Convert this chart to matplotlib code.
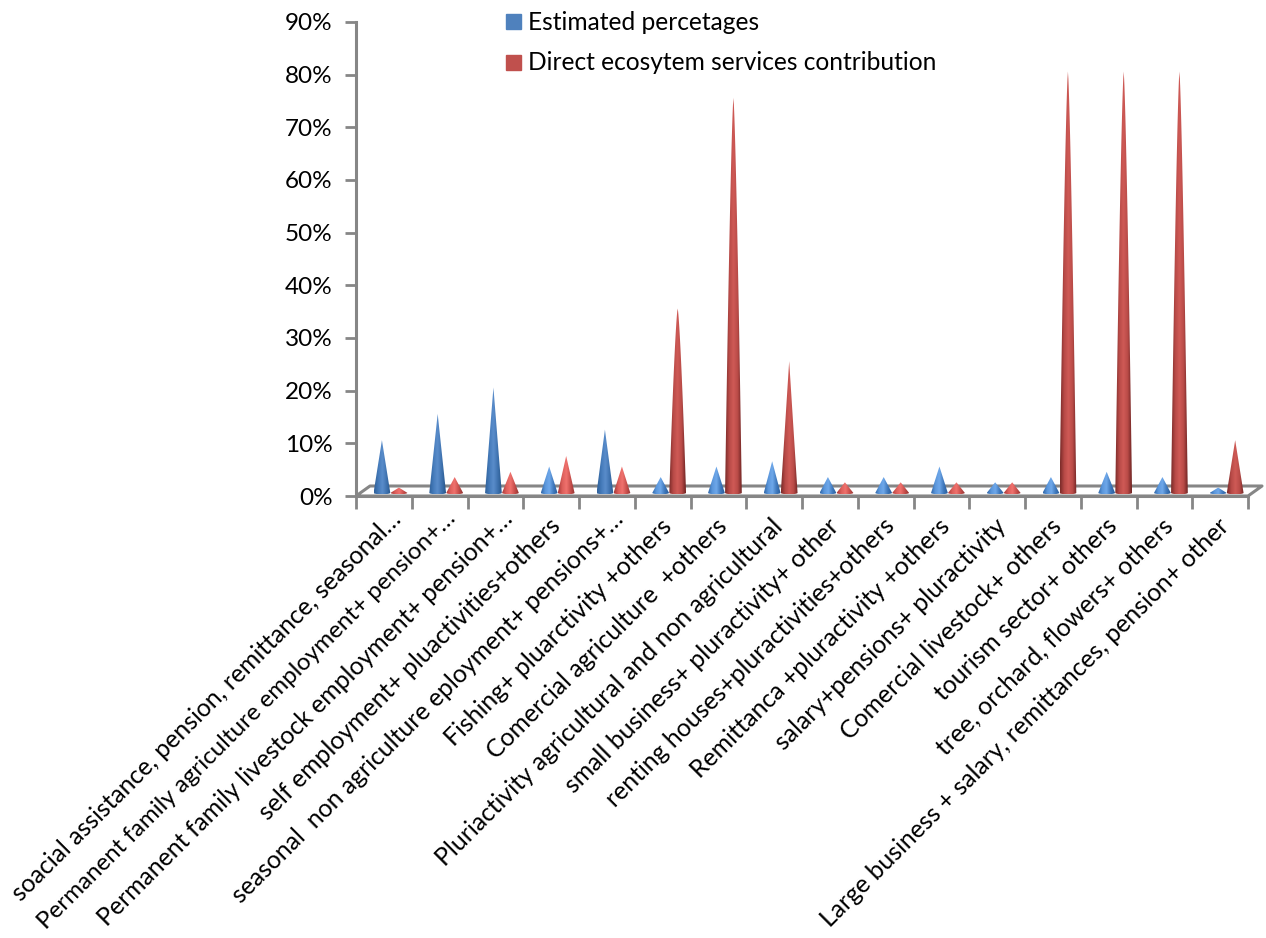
import numpy as np
from matplotlib import pyplot as plt
from matplotlib.colors import LinearSegmentedColormap
from matplotlib.patches import PathPatch, Rectangle
from matplotlib.path import Path
from matplotlib.transforms import ScaledTranslation

plt.rcParams['font.family'] = ['Lato', 'DejaVu Sans']

categories = [
    'soacial assistance, pension, remittance, seasonal…',
    'Permanent family agriculture employment+ pension+…',
    'Permanent family livestock employment+ pension+…',
    'self employment+ pluactivities+others',
    'seasonal  non agriculture eployment+ pensions+…',
    'Fishing+ pluarctivity +others',
    'Comercial agriculture  +others',
    'Pluriactivity agricultural and non agricultural',
    'small business+ pluractivity+ other',
    'renting houses+pluractivities+others',
    'Remittanca +pluractivity +others',
    'salary+pensions+ pluractivity',
    'Comercial livestock+ others',
    'tourism sector+ others',
    'tree, orchard, flowers+ others',
    'Large business + salary, remittances, pension+ other',
]
estimated = [10, 15, 20, 5, 12, 3, 5, 6, 3, 3, 5, 2, 3, 4, 3, 1]
direct = [1, 3, 4, 7, 5, 35, 75, 25, 2, 2, 2, 2, 80, 80, 80, 10]
y_ticks = [0, 10, 20, 30, 40, 50, 60, 70, 80, 90]
series_names = ['Estimated percetages', 'Direct ecosytem services contribution']

W, H = 1266, 938
GRAY = '#868686'
blue_tall = LinearSegmentedColormap.from_list('bt', ['#2f6099', '#447ab9', '#5a8dcb', '#3f73b0', '#28568a'])
blue_small = LinearSegmentedColormap.from_list('bs', ['#2f66a8', '#5b97dc', '#6fa8ea', '#3f78bc', '#2a5c98'])
red_tall = LinearSegmentedColormap.from_list('rt', ['#7a2b29', '#b84a47', '#cf5a56', '#ba4b48', '#6e2422'])
red_small = LinearSegmentedColormap.from_list('rs', ['#a83a38', '#dd5f5b', '#f0726e', '#c84f4c', '#8f3230'])
shade = np.linspace(0, 1, 64).reshape(1, -1)


def cone(ax, x, value, half_width, cmap):
    # apex and base are in data units, the base sits slightly above the floor line
    base = 0.6
    top = base + value
    # the tall cones taper a little slower than a straight side
    power = 0.72 if value >= 30 else 1.0
    t = np.linspace(0, 1, 60)
    right = half_width * (1 - t) ** power
    ys = base + value * t
    arc = np.linspace(0, np.pi, 30)
    verts = list(zip(x - right, ys)) + list(zip((x + right)[::-1], ys[::-1]))
    verts += list(zip(x + half_width * np.cos(arc), base - 0.28 * np.sin(arc)))
    verts.append(verts[0])
    codes = [Path.MOVETO] + [Path.LINETO] * (len(verts) - 2) + [Path.CLOSEPOLY]
    patch = PathPatch(Path(verts, codes), facecolor='none', edgecolor='none')
    ax.add_patch(patch)
    im = ax.imshow(shade, cmap=cmap, aspect='auto', zorder=4, interpolation='bilinear',
                   extent=(x - half_width, x + half_width, base - 0.3, top))
    im.set_clip_path(patch)


fig = plt.figure(figsize=(W / 100, H / 100), dpi=100)
ax = fig.add_axes([356 / W, 1 - 496 / H, (1248 - 356) / W, (496 - 22) / H])

positions = np.arange(len(categories))
for i in positions:
    cone(ax, i - 0.035, estimated[i], 0.15, blue_small if estimated[i] <= 7 else blue_tall)
    cone(ax, i + 0.27, direct[i], 0.15, red_small if direct[i] <= 7 else red_tall)

ax.set_xlim(-0.5, 15.5)
ax.set_ylim(0, 90)

# floor of the 3d box, drawn in axes fractions with a skew to the back
floor = dict(color=GRAY, lw=2.2, transform=ax.transAxes, clip_on=False, zorder=2, solid_capstyle='butt')
dx, dy = 14 / 892, 10 / 474
ax.plot([0, 1, 1 + dx, dx, 0], [0, 0, dy, dy, 0], **floor)

for side in ['top', 'right']:
    ax.spines[side].set_visible(False)
for side in ['left', 'bottom']:
    ax.spines[side].set_color(GRAY)
    ax.spines[side].set_linewidth(2.2)

ax.set_yticks(y_ticks)
ax.set_yticklabels([f'{v}%' for v in y_ticks], fontsize=17.5, color='black')
ax.tick_params(axis='y', length=8, width=2, color=GRAY, pad=9)

ax.set_xticks(positions)
ax.set_xticklabels(categories, rotation=45, ha='right', rotation_mode='anchor', va='top', fontsize=17.8)
ax.set_xticks(np.arange(-0.5, 16, 1), minor=True)
ax.tick_params(axis='x', which='major', length=0, pad=11)
ax.tick_params(axis='x', which='minor', length=9, width=2, color=GRAY)
# the shortened labels sit further along the slant than the full ones
for label, text in zip(ax.get_xticklabels(), categories):
    if text.endswith('…'):
        nudge = ScaledTranslation(5 / 100, 4 / 100, fig.dpi_scale_trans)
    else:
        nudge = ScaledTranslation(-3 / 100, -3 / 100, fig.dpi_scale_trans)
    label.set_transform(label.get_transform() + nudge)
# longest label has to stay on the canvas
ax.get_xticklabels()[1].set_fontsize(17.4)

# legend laid out by hand so the swatches keep their spacing
for y_px, name, col in zip([21.5, 62.5], series_names, ['#4f81bd', '#c0504d']):
    fig.add_artist(Rectangle((506 / W, 1 - (y_px + 7.5) / H), 15 / W, 15 / H, color=col,
                             transform=fig.transFigure))
    fig.text(528 / W, 1 - (y_px + 0.5) / H, name, fontsize=17.65, va='center', ha='left')

fig.savefig('out.png', dpi=100)
